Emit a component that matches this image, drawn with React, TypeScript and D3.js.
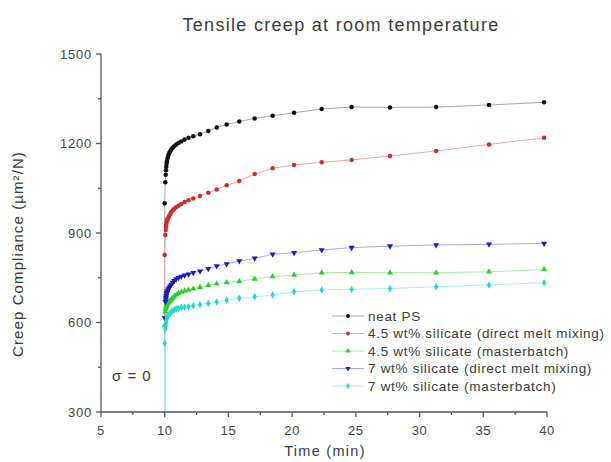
import * as d3 from "d3";

const timeMin = [
  10, 10, 10.05, 10.08, 10.1, 10.12, 10.145, 10.17, 10.21, 10.25, 10.3, 10.36,
  10.43, 10.52, 10.63, 10.75, 10.9, 11.08, 11.3, 11.56, 11.87, 12.24, 12.77,
  13.42, 14.08, 14.86, 15.85, 17.06, 18.47, 20.15, 22.32, 24.67, 27.68, 31.3,
  35.45, 39.77,
];

const neatPS = [
  0, 1000, 1070, 1095, 1110, 1122, 1132, 1140, 1148, 1155, 1162, 1168, 1174,
  1180, 1186, 1191, 1197, 1202, 1207, 1213, 1219, 1224, 1231, 1242, 1254, 1264,
  1274, 1284, 1293, 1303, 1316, 1322, 1321, 1322, 1329, 1338,
];
const direct45 = [
  0, 826, 893, 910, 920, 928, 935, 940, 945, 948, 952, 958, 964, 970, 976, 981,
  986, 991, 997, 1004, 1010, 1016, 1024, 1035, 1046, 1060, 1074, 1098, 1117,
  1128, 1137, 1145, 1158, 1175, 1197, 1219,
];
const master45 = [
  0, 590, 636, 645, 650, 655, 659, 662, 665, 667, 669, 671, 673, 677, 682, 687,
  693, 698, 702, 706, 709, 713, 718, 725, 730, 734, 738, 746, 754, 759, 767, 768,
  767, 767, 770, 778,
];
const direct7 = [
  0, 615, 670, 678, 684, 690, 696, 700, 705, 708, 712, 717, 722, 727, 734, 740,
  746, 750, 754, 758, 762, 767, 772, 780, 789, 796, 806, 815, 829, 834, 843, 851,
  856, 860, 862, 865,
];
const master7 = [
  0, 530, 578, 592, 600, 606, 611, 615, 619, 622, 625, 628, 631, 635, 639, 643,
  646, 648, 650, 651, 653, 656, 660, 664, 669, 675, 681, 686, 692, 703, 709, 711,
  714, 720, 726, 733,
];

const seriesLabels = [
  "neat PS",
  "4.5 wt% silicate (direct melt mixing)",
  "4.5 wt% silicate (masterbatch)",
  "7 wt% silicate (direct melt mixing)",
  "7 wt% silicate (masterbatch)",
];
const xTickValues = [5, 10, 15, 20, 25, 30, 35, 40];
const yTickValues = [300, 600, 900, 1200, 1500];

const W = 611;
const H = 462;
const margin = { top: 54, right: 64, bottom: 50, left: 101 };

const styles = [
  { marker: "#111", line: "#a8a8a8", symbol: d3.symbolCircle, flip: false },
  { marker: "#d42a2a", line: "#f2a5a5", symbol: d3.symbolCircle, flip: false },
  { marker: "#2ccf2c", line: "#a6eea6", symbol: d3.symbolTriangle, flip: false },
  { marker: "#1c1cc4", line: "#a8a8f2", symbol: d3.symbolTriangle, flip: true },
  { marker: "#25d6d6", line: "#a8f0f0", symbol: d3.symbolDiamond, flip: false },
];

export default function App() {
  const x = d3.scaleLinear().domain([5, 40]).range([margin.left, W - margin.right]);
  const y = d3.scaleLinear().domain([300, 1500]).range([H - margin.bottom, margin.top]);
  const series = [neatPS, direct45, master45, direct7, master7];

  const line = d3
    .line<number>()
    .x((_, i) => x(timeMin[i]))
    .y((v) => y(v));

  const minorX = xTickValues.slice(1).map((v, i) => (v + xTickValues[i]) / 2);
  const minorY = yTickValues.slice(1).map((v, i) => (v + yTickValues[i]) / 2);
  const x0 = x.range()[0];
  const y0 = y.range()[0];
  const font = "Arial, 'Liberation Sans', sans-serif";
  const axisColor = "#555";
  const textColor = "#3a3a3a";

  const legendX = 332;
  const legendY = 316;
  const legendStep = 17.5;

  return (
    <svg
      width={W}
      height={H}
      style={{ position: "absolute", left: 0, top: 0, background: "#fff" }}
      fontFamily={font}
    >
      <defs>
        <clipPath id="plot">
          <rect x={x0} y={margin.top - 6} width={W - margin.right - x0 + 6} height={y0 - margin.top + 6} />
        </clipPath>
      </defs>

      <text x={341} y={31} textAnchor="middle" fontSize={18} letterSpacing={1.3} fill={textColor}>
        Tensile creep at room temperature
      </text>

      <g clipPath="url(#plot)">
        {series.map((vals, si) => (
          <path key={"l" + si} d={line(vals) ?? ""} fill="none" stroke={styles[si].line} strokeWidth={1} />
        ))}
        {series.map((vals, si) =>
          vals.map((v, i) => (
            <path
              key={"m" + si + "-" + i}
              d={d3.symbol().type(styles[si].symbol).size(16)() ?? ""}
              transform={`translate(${x(timeMin[i])},${y(v)})${styles[si].flip ? " rotate(180)" : ""}`}
              fill={styles[si].marker}
            />
          ))
        )}
      </g>

      {/* axes */}
      <g stroke={axisColor} strokeWidth={1.3}>
        <line x1={x0} x2={x0} y1={margin.top} y2={y0} />
        <line x1={x0} x2={W - margin.right} y1={y0} y2={y0} />
        {yTickValues.map((v) => (
          <line key={"yt" + v} x1={x0 - 5} x2={x0} y1={y(v)} y2={y(v)} />
        ))}
        {minorY.map((v) => (
          <line key={"ym" + v} x1={x0 - 3} x2={x0} y1={y(v)} y2={y(v)} />
        ))}
        {xTickValues.map((v) => (
          <line key={"xt" + v} x1={x(v)} x2={x(v)} y1={y0} y2={y0 + 5} />
        ))}
        {minorX.map((v) => (
          <line key={"xm" + v} x1={x(v)} x2={x(v)} y1={y0} y2={y0 + 3} />
        ))}
      </g>
      {yTickValues.map((v) => (
        <text key={"yl" + v} x={x0 - 9} y={y(v)} dy="0.35em" textAnchor="end" fontSize={13} letterSpacing={0.8} fill="#444">
          {v}
        </text>
      ))}
      {xTickValues.map((v) => (
        <text key={"xl" + v} x={x(v)} y={y0 + 18} dy="0.35em" textAnchor="middle" fontSize={13} letterSpacing={0.6} fill="#444">
          {v}
        </text>
      ))}

      <text
        transform={`translate(23,${(margin.top + y0) / 2 + 21}) rotate(-90)`}
        textAnchor="middle"
        fontSize={15}
        letterSpacing={1.1}
        fill={textColor}
      >
        Creep Compliance (µm²/N)
      </text>
      <text x={325} y={456} textAnchor="middle" fontSize={14.5} letterSpacing={1.3} fill={textColor}>
        Time (min)
      </text>
      <text x={112} y={381} fontSize={15} letterSpacing={1} fill={textColor}>
        σ = 0
      </text>

      {/* legend */}
      {seriesLabels.map((label, i) => {
        const ly = legendY + i * legendStep;
        return (
          <g key={"lg" + i}>
            <line x1={legendX} x2={legendX + 32} y1={ly} y2={ly} stroke={styles[i].line} strokeWidth={1} />
            <path
              d={d3.symbol().type(styles[i].symbol).size(12)() ?? ""}
              transform={`translate(${legendX + 16},${ly})${styles[i].flip ? " rotate(180)" : ""}`}
              fill={styles[i].marker}
            />
            <text x={legendX + 36} y={ly} dy="0.35em" fontSize={13.5} letterSpacing={0.7} fill={textColor}>
              {label}
            </text>
          </g>
        );
      })}
    </svg>
  );
}
